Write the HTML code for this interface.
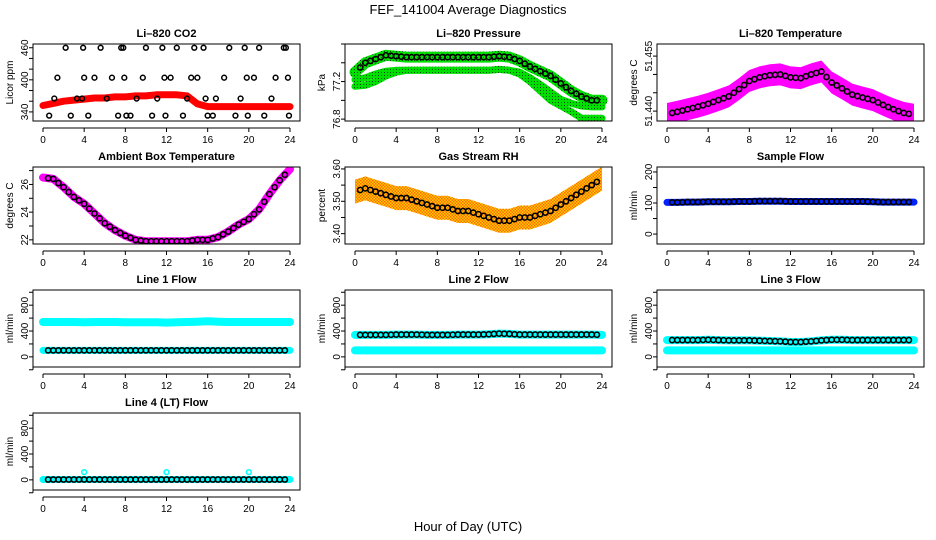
<!DOCTYPE html>
<html><head><meta charset="utf-8"><style>
html,body{margin:0;padding:0;background:#fff;}
svg{display:block;font-family:"Liberation Sans",sans-serif;}
</style></head><body>
<svg id="chart" width="936" height="540" viewBox="0 0 936 540">
<defs>
<pattern id="rhpat" width="3" height="3" patternUnits="userSpaceOnUse"><rect width="3" height="3" fill="#ffd000"/><rect width="1.5" height="1.5" fill="#ff6a00"/><rect x="1.5" y="1.5" width="1.5" height="1.5" fill="#ff6a00"/></pattern>
<pattern id="grpat" width="3" height="3" patternUnits="userSpaceOnUse"><rect width="3" height="3" fill="#00e000"/><rect width="1" height="1" fill="#0a4a0a"/></pattern>
</defs>
<text x="468" y="14" text-anchor="middle" font-size="13">FEF_141004  Average Diagnostics</text>
<text x="468" y="531" text-anchor="middle" font-size="13">Hour of Day (UTC)</text>
</svg>
<script>
// ---- data arrays ----
const hours = [0,1,2,3,4,5,6,7,8,9,10,11,12,13,14,15,16,17,18,19,20,21,22,23,24];
const xTicks = [0,4,8,12,16,20,24];
const co2Band = [352,356,360,362,364,366,366,368,368,370,370,372,372,372,370,355,350,350,350,350,350,350,350,350,350];
const co2OutHours = [0.6,1.1,1.4,2.2,2.7,3.3,3.8,3.9,4.0,4.4,5.0,5.6,6.2,6.7,7.3,7.6,7.8,7.9,8.1,8.5,9.1,9.7,10.0,10.6,11.1,11.6,11.8,11.9,12.4,13.0,13.6,14.0,14.4,14.7,15.0,15.6,15.8,16.0,16.5,16.8,17.6,18.1,18.7,19.2,19.6,19.8,19.9,20.5,21.0,21.5,22.2,22.6,23.4,23.6,23.8,23.9];
const co2OutVals = [333,365,404,460,333,365,365,460,404,333,404,460,365,404,333,460,460,404,333,333,365,404,460,333,365,460,404,333,404,460,333,365,404,460,404,460,365,333,333,365,404,460,333,365,460,404,333,404,460,333,365,404,460,460,404,333];
const presUpper = [77.30,77.40,77.44,77.48,77.47,77.46,77.46,77.46,77.46,77.46,77.46,77.46,77.46,77.46,77.47,77.46,77.42,77.36,77.31,77.26,77.18,77.10,77.04,77.00,77.00];
const presMiddle = [77.22,77.24,77.28,77.31,77.32,77.32,77.32,77.32,77.32,77.32,77.32,77.32,77.32,77.32,77.33,77.32,77.30,77.24,77.17,77.09,77.01,76.97,76.94,76.93,76.93];
const presLower = [77.15,77.16,77.20,77.26,77.30,77.32,77.32,77.32,77.32,77.32,77.32,77.32,77.32,77.32,77.33,77.32,77.28,77.20,77.10,77.00,76.94,76.88,76.81,76.81,76.81];
const tempMean = [51.4392,51.4398,51.4405,51.4412,51.4420,51.4430,51.4440,51.4460,51.4482,51.4492,51.4498,51.4500,51.4492,51.4490,51.4500,51.4508,51.4478,51.4462,51.4445,51.4437,51.4430,51.4417,51.4405,51.4395,51.4390];
const ambVals = [26.5,26.4,25.8,25.1,24.6,23.9,23.2,22.7,22.3,22.0,21.9,21.9,21.9,21.9,21.9,22.0,22.0,22.2,22.6,23.1,23.5,24.2,25.3,26.3,27.1];
const rhMean = [3.53,3.54,3.53,3.52,3.51,3.51,3.50,3.49,3.48,3.48,3.47,3.47,3.46,3.45,3.44,3.44,3.45,3.45,3.46,3.47,3.49,3.51,3.53,3.55,3.57];
const sampleVals = [102,102,103,103,104,104,104,105,105,106,106,106,105,105,105,105,105,105,105,105,104,103,103,103,103];
const line1Upper = [540,540,540,540,535,540,540,540,535,535,535,535,530,535,540,545,550,545,540,540,540,540,540,540,540];
const line1Lower = [100,100,100,100,100,100,100,100,100,100,100,100,100,100,100,100,100,100,100,100,100,100,100,100,100];
const line2Upper = [340,340,340,340,345,345,345,340,340,340,345,345,345,350,360,355,345,345,345,345,345,345,345,345,340];
const line2Lower = [100,100,100,100,100,100,100,100,100,100,100,100,100,100,100,100,100,100,100,100,100,100,100,100,100];
const line3Upper = [260,260,260,260,265,260,255,255,255,250,245,240,230,230,240,255,265,265,260,260,260,260,260,260,260];
const line3Lower = [100,100,100,100,100,100,100,100,100,100,100,100,100,100,100,100,100,100,100,100,100,100,100,100,100];
const line4Vals = [5,5,5,5,5,5,5,5,5,5,5,5,5,5,5,5,5,5,5,5,5,5,5,5,5];
const line4OutHours = [4,12,20];
const line4OutVals = [120,120,120];
const flowTicks = [0,400,800];

const NS='http://www.w3.org/2000/svg';
const svg=document.getElementById('chart');
function mk(tag,attrs,parent){const e=document.createElementNS(NS,tag);for(const k in attrs)e.setAttribute(k,attrs[k]);(parent||svg).appendChild(e);return e;}
function interp(arr,t){const i=Math.min(Math.floor(t),arr.length-2);const f=t-i;return arr[i]*(1-f)+arr[i+1]*f;}

const colL=[33,345,657], rowT=[44,167,290,413], W=267, H=77;
function panel(col,row,title,ytitle,ymin,ymax,yticks,ylabels,name){
  const L=colL[col],T=rowT[row];
  const g=mk('g',{});
  
  
  const xs=t=>L+10+t*(247/24);
  const ys=v=>T+H-(v-ymin)/(ymax-ymin)*H;
  const tt=mk('text',{x:L+W/2,y:T-7,'text-anchor':'middle','font-size':11,'font-weight':'bold'},g);tt.textContent=title;
  
  const xa=mk('g',{},g);
  
  mk('line',{x1:xs(0),x2:xs(24),y1:T+H+7,y2:T+H+7,stroke:'#000'},xa);
  xTicks.forEach(t=>{mk('line',{x1:xs(t),x2:xs(t),y1:T+H+7,y2:T+H+11,stroke:'#000'},xa);
    const tx=mk('text',{x:xs(t),y:T+H+22,'text-anchor':'middle','font-size':10},xa);tx.textContent=t;});
  const ya=mk('g',{},g);
  
  mk('line',{x1:L,x2:L,y1:ys(yticks[0]),y2:ys(yticks[yticks.length-1]),stroke:'#000'},ya);
  yticks.forEach(v=>mk('line',{x1:L-4,x2:L,y1:ys(v),y2:ys(v),stroke:'#000'},ya));
  ylabels.forEach(v=>{const y=ys(v);const tx=mk('text',{x:0,y:0,transform:`translate(${L-5},${y}) rotate(-90)`,'text-anchor':'middle','font-size':10},ya);tx.textContent=v;});
  const yt=mk('text',{transform:`translate(${L-20},${T+H/2}) rotate(-90)`,'text-anchor':'middle','font-size':10},g);yt.textContent=ytitle;
  
  const cp='cp'+col+row;
  const c=mk('clipPath',{id:cp},g);mk('rect',{x:L,y:T,width:W,height:H},c);
  const plot=mk('g',{'clip-path':`url(#${cp})`},g);
  mk('rect',{x:L,y:T,width:W,height:H,fill:'none',stroke:'#000'},g);
  return {xs,ys,plot};
}
function band(p,arr,color,w,name){
  const d=hours.map((h,i)=>(i?'L':'M')+p.xs(h).toFixed(1)+','+p.ys(arr[i]).toFixed(1)).join('');
  const e=mk('path',{d,fill:'none',stroke:color,'stroke-width':w,'stroke-linecap':'round','stroke-linejoin':'round'},p.plot);
  
}
function area(p,arr,half,fill,name){
  const up=hours.map((h,i)=>p.xs(h).toFixed(1)+','+(p.ys(arr[i])-half).toFixed(1));
  const dn=hours.slice().reverse().map((h,j)=>{const i=hours.length-1-j;return p.xs(h).toFixed(1)+','+(p.ys(arr[i])+half).toFixed(1);});
  const e=mk('polygon',{points:up.concat(dn).join(' '),fill},p.plot);
  
}
function circles(p,arr,color,name,r){
  for(let t=0.5;t<=23.9;t+=0.5){
    const e=mk('circle',{cx:p.xs(t),cy:p.ys(interp(arr,t)),r:r||2.6,fill:'none',stroke:color,'stroke-width':1.6},p.plot);
    
  }
}
function pts(p,hs,vs,color,name){
  hs.forEach((h,i)=>{const e=mk('circle',{cx:p.xs(h),cy:p.ys(vs[i]),r:2.4,fill:'none',stroke:color,'stroke-width':1.5},p.plot);
    });
}

// CO2
let p=panel(0,0,'Li–820 CO2','Licor ppm',323,467,[340,360,380,400,420,440,460],[340,400,460],'co2-panel');
band(p,co2Band,'#ff0000',7,'co2-series');
pts(p,co2OutHours,co2OutVals,'#000','co2-outlier');
// Pressure
p=panel(1,0,'Li–820 Pressure','kPa',76.78,77.6,[76.8,77.0,77.2,77.4,77.6],[76.8,77.2],'pressure-panel');
band(p,presLower,'url(#grpat)',7,'pressure-lower');
band(p,presMiddle,'url(#grpat)',7,'pressure-middle');
band(p,presUpper,'url(#grpat)',11,'pressure-upper');
circles(p,presUpper,'#000','pressure-average');
// Temperature
p=panel(2,0,'Li–820 Temperature','degrees C',51.4373,51.4583,[51.440,51.445,51.450,51.455],['51.440','51.455'],'temperature-panel');
area(p,tempMean,11,'#ff00ff','temperature-series');
circles(p,tempMean,'#000','temperature-average');
// Ambient
p=panel(0,1,'Ambient Box Temperature','degrees C',21.7,27.26,[22,23,24,25,26,27],[22,24,26],'ambient-panel');
band(p,ambVals,'#ff00ff',8,'ambient-series');
circles(p,ambVals,'#000','ambient-average');
// RH
p=panel(1,1,'Gas Stream RH','percent',3.368,3.606,[3.40,3.45,3.50,3.55,3.60],['3.40','3.50','3.60'],'rh-panel');
area(p,rhMean,12,'url(#rhpat)','rh-series');
circles(p,rhMean,'#000','rh-average');
// Sample flow
p=panel(2,1,'Sample Flow','ml/min',-32,216,[0,50,100,150,200],[0,100,200],'sample-flow-panel');
band(p,sampleVals,'#0022ff',7,'sample-flow-series');
circles(p,sampleVals,'#000','sample-flow-average');
// Line 1
const fT=[-200,0,200,400,600,800,1000];
p=panel(0,2,'Line 1 Flow','ml/min',-157,1035,fT,flowTicks,'line1-panel');
band(p,line1Upper,'#00ffff',8,'line1-upper');
band(p,line1Lower,'#00ffff',7,'line1-lower');
circles(p,line1Lower,'#000','line1-average');
// Line 2
p=panel(1,2,'Line 2 Flow','ml/min',-157,1035,fT,flowTicks,'line2-panel');
band(p,line2Lower,'#00ffff',8,'line2-lower');
band(p,line2Upper,'#00ffff',8,'line2-upper');
circles(p,line2Upper,'#000','line2-average');
// Line 3
p=panel(2,2,'Line 3 Flow','ml/min',-157,1035,fT,flowTicks,'line3-panel');
band(p,line3Lower,'#00ffff',8,'line3-lower');
band(p,line3Upper,'#00ffff',8,'line3-upper');
circles(p,line3Upper,'#000','line3-average');
// Line 4
p=panel(0,3,'Line 4 (LT) Flow','ml/min',-157,1035,fT,flowTicks,'line4-panel');
band(p,line4Vals,'#00ffff',7,'line4-series');
circles(p,line4Vals,'#000','line4-average');
pts(p,line4OutHours,line4OutVals,'#00ffff','line4-outlier');
</script>
</body></html>
